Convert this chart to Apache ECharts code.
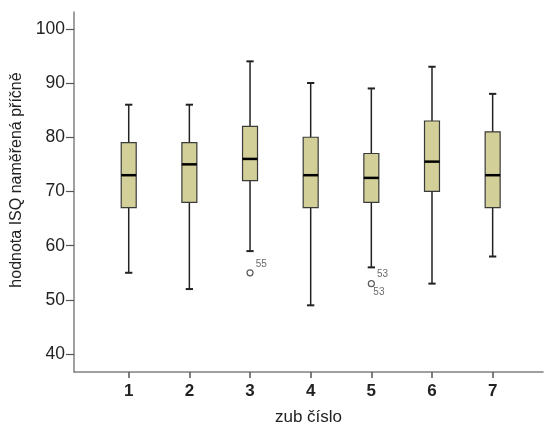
<!DOCTYPE html>
<html><head><meta charset="utf-8">
<script src="https://cdn.jsdelivr.net/npm/echarts@6/dist/echarts.min.js"></script>
<style>html,body{margin:0;padding:0;background:#fff}#c{width:544px;height:428px}</style>
</head><body><div id="c"></div>
<script>
var categories = ['1','2','3','4','5','6','7'];
var whiskerLow  = [55, 52, 59, 49, 56, 53, 58];
var q1          = [67, 68, 72, 67, 68, 70, 67];
var median      = [73, 75, 76, 73, 72.5, 75.5, 73];
var q3          = [79, 79, 82, 80, 77, 83, 81];
var whiskerHigh = [86, 86, 94, 90, 89, 93, 88];
var outlierCat   = [3, 5];
var outlierValue = [55, 53];
var outlierLabelsAbove = ['55', '53'];
var outlierLabelsBelow = ['', '53'];
var yTicks = [40, 50, 60, 70, 80, 90, 100];

var boxData = categories.map(function(c, i){
  return [i + 1, whiskerLow[i], q1[i], median[i], q3[i], whiskerHigh[i]];
});
var outData = outlierCat.map(function(c, i){
  return [c, outlierValue[i], outlierLabelsAbove[i], outlierLabelsBelow[i]];
});

function renderBox(params, api){
  var x = api.value(0);
  var pLow = api.coord([x, api.value(1)]);
  var pQ1 = api.coord([x, api.value(2)]);
  var pMed = api.coord([x, api.value(3)]);
  var pQ3 = api.coord([x, api.value(4)]);
  var pHigh = api.coord([x, api.value(5)]);
  var bw = api.size([0.247, 0])[0];
  var cw = api.size([0.12, 0])[0];
  var cx = pMed[0];
  var wStyle = {stroke: '#222', lineWidth: 1.5};
  return {type: 'group', children: [
    {type: 'line', shape: {x1: cx, y1: pHigh[1], x2: cx, y2: pQ3[1]}, style: wStyle},
    {type: 'line', shape: {x1: cx, y1: pLow[1], x2: cx, y2: pQ1[1]}, style: wStyle},
    {type: 'line', shape: {x1: cx - cw/2, y1: pHigh[1], x2: cx + cw/2, y2: pHigh[1]}, style: {stroke: '#222', lineWidth: 2}},
    {type: 'line', shape: {x1: cx - cw/2, y1: pLow[1], x2: cx + cw/2, y2: pLow[1]}, style: {stroke: '#222', lineWidth: 2}},
    {type: 'rect', shape: {x: cx - bw/2, y: pQ3[1], width: bw, height: pQ1[1] - pQ3[1]},
     style: {fill: '#d2cf98', stroke: '#3a3a3a', lineWidth: 1.2}},
    {type: 'line', shape: {x1: cx - bw/2, y1: pMed[1], x2: cx + bw/2, y2: pMed[1]}, style: {stroke: '#000', lineWidth: 2.5}}
  ]};
}

var chart = echarts.init(document.getElementById('c'));
chart.setOption({
  animation: false,
  backgroundColor: '#fff',
  grid: {left: 74, top: 12, right: 1, bottom: 56, outerBoundsMode: 'none', containLabel: false},
  xAxis: {
    type: 'value', min: 0.098, max: 7.83,
    splitLine: {show: false},
    axisLine: {show: true, lineStyle: {color: '#808080', width: 1.5}},
    axisTick: {show: true, length: 6, customValues: [1,2,3,4,5,6,7], lineStyle: {color: '#555', width: 1.5}},
    axisLabel: {customValues: [1,2,3,4,5,6,7], fontFamily: 'Liberation Sans, Arial', fontSize: 17, fontWeight: 'bold', color: '#222', margin: 11,
      formatter: function(v){ return categories[Math.round(v) - 1]; }},
    name: 'zub číslo', nameLocation: 'middle', nameGap: 37,
    nameTextStyle: {fontFamily: 'Liberation Sans, Arial', fontSize: 17, color: '#222'}
  },
  yAxis: {
    type: 'value', min: 36.7, max: 103.1,
    splitLine: {show: false},
    axisLine: {show: true, lineStyle: {color: '#808080', width: 1.5}},
    axisTick: {show: true, length: 8, customValues: yTicks, lineStyle: {color: '#555', width: 1.2}},
    axisLabel: {customValues: yTicks, fontFamily: 'Liberation Sans, Arial', fontSize: 17.5, color: '#222', margin: 9},
    name: 'hodnota ISQ naměřená příčně', nameLocation: 'middle', nameGap: 48,
    nameTextStyle: {fontFamily: 'Liberation Sans, Arial', fontSize: 16, color: '#222', padding: [0, 0, 0, 24]}
  },
  series: [
    {type: 'custom', renderItem: renderBox, data: boxData, encode: {x: 0, y: [1,2,3,4,5]}, z: 2},
    {type: 'scatter', data: outData, symbol: 'circle', symbolSize: 6,
     itemStyle: {color: '#fff', borderColor: '#333', borderWidth: 1.2},
     label: {show: true, position: 'right', offset: [-3, -9], formatter: function(p){ return p.value[2]; },
       fontFamily: 'Liberation Sans, Arial', fontSize: 10, color: '#444'}, z: 3},
    {type: 'scatter', data: outData, symbol: 'circle', symbolSize: 0, silent: true,
     label: {show: true, position: 'right', offset: [-3, 9], formatter: function(p){ return p.value[3]; },
       fontFamily: 'Liberation Sans, Arial', fontSize: 10, color: '#444'}, z: 3}
  ]
});
</script>
</body></html>
